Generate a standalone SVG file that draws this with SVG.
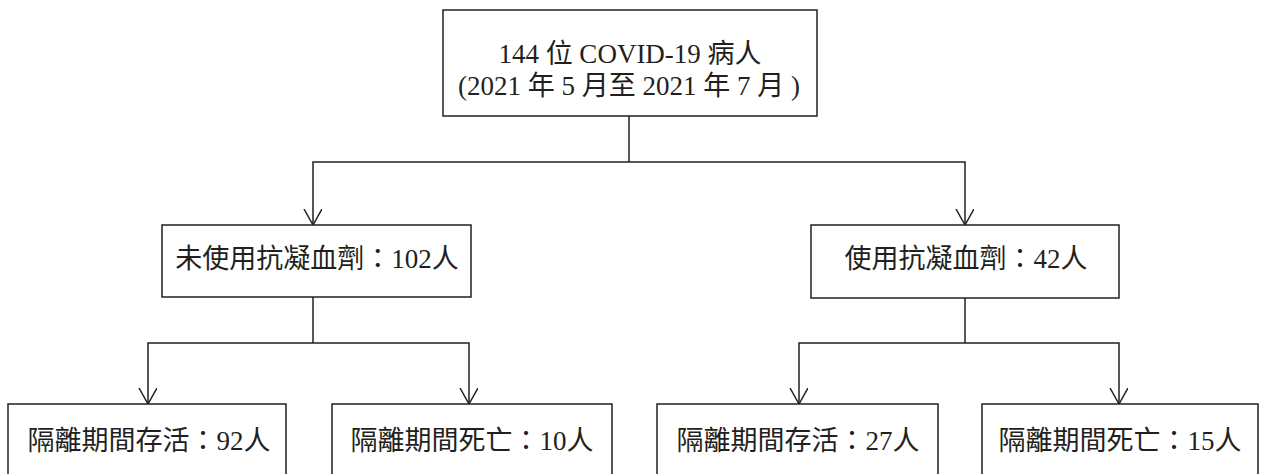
<svg xmlns="http://www.w3.org/2000/svg" width="1262" height="474" viewBox="0 0 1262 474">
<defs>
<style>
.box{fill:#fff;stroke:#231f20;stroke-width:1.5}
.con{fill:none;stroke:#231f20;stroke-width:1.5}
.t{font-family:"Liberation Serif","Noto Sans CJK TC",serif;font-size:27px;fill:#231f20;text-anchor:middle}
</style>
<marker id="arr" markerWidth="20" markerHeight="20" refX="16" refY="9" orient="auto" markerUnits="userSpaceOnUse">
<path d="M0,0 L16,9 L0,18" fill="none" stroke="#231f20" stroke-width="1.5"/>
</marker>
</defs>
<rect width="1262" height="474" fill="#fff"/>
<g id="connectors">
<path class="con" d="M629,116 V162"/>
<path class="con" d="M629,162 H313 V225" marker-end="url(#arr)"/>
<path class="con" d="M629,162 H965 V225" marker-end="url(#arr)"/>
<path class="con" d="M313,297 V343"/>
<path class="con" d="M313,343 H148 V404" marker-end="url(#arr)"/>
<path class="con" d="M313,343 H469 V404" marker-end="url(#arr)"/>
<path class="con" d="M965,298 V343"/>
<path class="con" d="M965,343 H799 V404" marker-end="url(#arr)"/>
<path class="con" d="M965,343 H1119 V404" marker-end="url(#arr)"/>
</g>
<g id="n-all">
<rect class="box" x="443" y="10" width="374" height="106"/>
<text class="t" x="630" y="63">144 位 COVID-19 病人</text>
<text class="t" x="629" y="95">(2021 年 5 月至 2021 年 7 月 )</text>
</g>
<g id="n-noanti">
<rect class="box" x="162" y="225" width="309" height="72"/>
<text class="t" x="317" y="268">未使用抗凝血劑：102人</text>
</g>
<g id="n-anti">
<rect class="box" x="811" y="225" width="308" height="73"/>
<text class="t" x="966" y="268">使用抗凝血劑：42人</text>
</g>
<g id="n-noanti-surv">
<rect class="box" x="8" y="404" width="278" height="80"/>
<text class="t" x="149" y="450">隔離期間存活：92人</text>
</g>
<g id="n-noanti-dead">
<rect class="box" x="332" y="404" width="280" height="80"/>
<text class="t" x="472" y="450">隔離期間死亡：10人</text>
</g>
<g id="n-anti-surv">
<rect class="box" x="657" y="404" width="281" height="80"/>
<text class="t" x="798" y="450">隔離期間存活：27人</text>
</g>
<g id="n-anti-dead">
<rect class="box" x="982" y="404" width="276" height="80"/>
<text class="t" x="1120" y="450">隔離期間死亡：15人</text>
</g>
</svg>
